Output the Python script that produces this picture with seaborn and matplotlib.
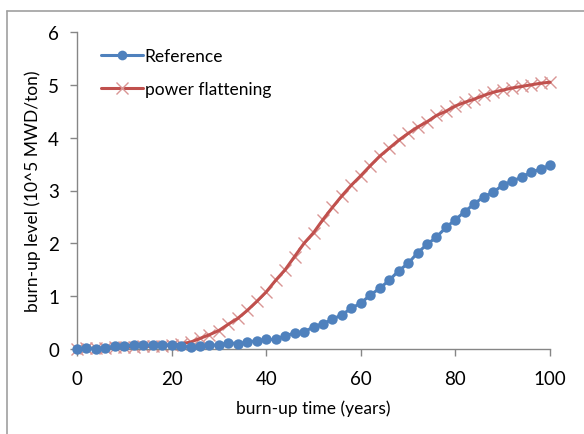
import numpy as np
import pandas as pd
import matplotlib
matplotlib.use("Agg")
import matplotlib.pyplot as plt
import seaborn as sns
from matplotlib.lines import Line2D

years = list(range(0, 101, 2))
reference = [0.0, 0.02, 0.0, 0.02, 0.06, 0.05, 0.08, 0.08, 0.07, 0.08, 0.08,
             0.05, 0.04, 0.06, 0.08, 0.07, 0.12, 0.10, 0.13, 0.16, 0.18,
             0.18, 0.25, 0.30, 0.32, 0.42, 0.48, 0.56, 0.65, 0.77, 0.87,
             1.02, 1.15, 1.30, 1.48, 1.62, 1.82, 1.98, 2.12, 2.30, 2.45,
             2.60, 2.75, 2.88, 2.97, 3.10, 3.18, 3.25, 3.35, 3.40, 3.48]
power_flattening = [0.0, 0.01, 0.02, 0.02, 0.03, 0.03, 0.04, 0.05, 0.05, 0.06, 0.07,
                    0.10, 0.13, 0.20, 0.27, 0.35, 0.47, 0.58, 0.73, 0.90, 1.08,
                    1.30, 1.50, 1.75, 2.00, 2.20, 2.45, 2.68, 2.90, 3.10, 3.28,
                    3.47, 3.65, 3.80, 3.95, 4.08, 4.20, 4.30, 4.42, 4.50, 4.60,
                    4.67, 4.73, 4.80, 4.86, 4.90, 4.94, 4.97, 5.00, 5.03, 5.05]
series_names = ["Reference", "power flattening"]
x_ticks = [0, 20, 40, 60, 80, 100]
y_ticks = [0, 1, 2, 3, 4, 5, 6]

sns.set_theme(style="white")
plt.rcParams['font.family'] = ['Lato', 'DejaVu Sans']
plt.rcParams['text.color'] = 'black'
plt.rcParams['axes.labelcolor'] = 'black'
plt.rcParams['xtick.color'] = 'black'
plt.rcParams['ytick.color'] = 'black'

fig = plt.figure(figsize=(5.84, 4.35), dpi=100)
ax = fig.add_axes([77/584, 85/435, 473/584, 317/435])

df_ref = pd.DataFrame({"x": years, "y": reference})
df_pf = pd.DataFrame({"x": years, "y": power_flattening})

sns.lineplot(data=df_pf, x="x", y="y", ax=ax, color="#C0504D", lw=2.2,
             label=series_names[1], zorder=3)
ax.plot(years, power_flattening, ls="none", marker="x", ms=8, mew=1.0,
        color="#D99594", zorder=2)
sns.lineplot(data=df_ref, x="x", y="y", ax=ax, color="#4F81BD", lw=2.2,
             marker="o", markersize=7.5, markeredgewidth=0,
             label=series_names[0], zorder=4)

ax.set_xlim(0, 100)
ax.set_ylim(0, 6)
ax.set_xticks(x_ticks)
ax.set_yticks(y_ticks)
ax.margins(0)
ax.set_xlabel("burn-up time (years)", fontsize=12.5, labelpad=9)
ax.set_ylabel("burn-up level (10^5 MWD/ton)", fontsize=12.5, labelpad=5)
ax.tick_params(axis="both", labelsize=13.5, length=5, width=1,
               direction="out", bottom=True, left=True)
ax.tick_params(axis="x", pad=10, color="#868686")
ax.tick_params(axis="y", pad=8, color="#868686")
for s in ["top", "right"]:
    ax.spines[s].set_visible(False)
for s in ["left", "bottom"]:
    ax.spines[s].set_color("#868686")
    ax.spines[s].set_linewidth(1)
for line in ax.get_lines():
    line.set_clip_on(False)

handles = [Line2D([], [], color="#4F81BD", lw=2.2, marker="o", ms=7, mew=0),
           Line2D([], [], color="#C0504D", lw=2.2, marker="x", ms=8, mew=1,
                  mec="#D99594")]
ax.legend(handles, series_names, loc="upper left", bbox_to_anchor=(0.018, 1.0),
          frameon=False, fontsize=12.5, handlelength=2.4, handletextpad=0.1,
          labelspacing=1.0)

# outer chart border (only top and left edges visible in the reference)
fig.add_artist(Line2D([7/584, 7/584], [0, 423.5/435], transform=fig.transFigure,
                      color="#A0A0A0", lw=1.2))
fig.add_artist(Line2D([7/584, 1], [423.5/435, 423.5/435], transform=fig.transFigure,
                      color="#A0A0A0", lw=1.2))
fig.savefig("out.png", dpi=100)
